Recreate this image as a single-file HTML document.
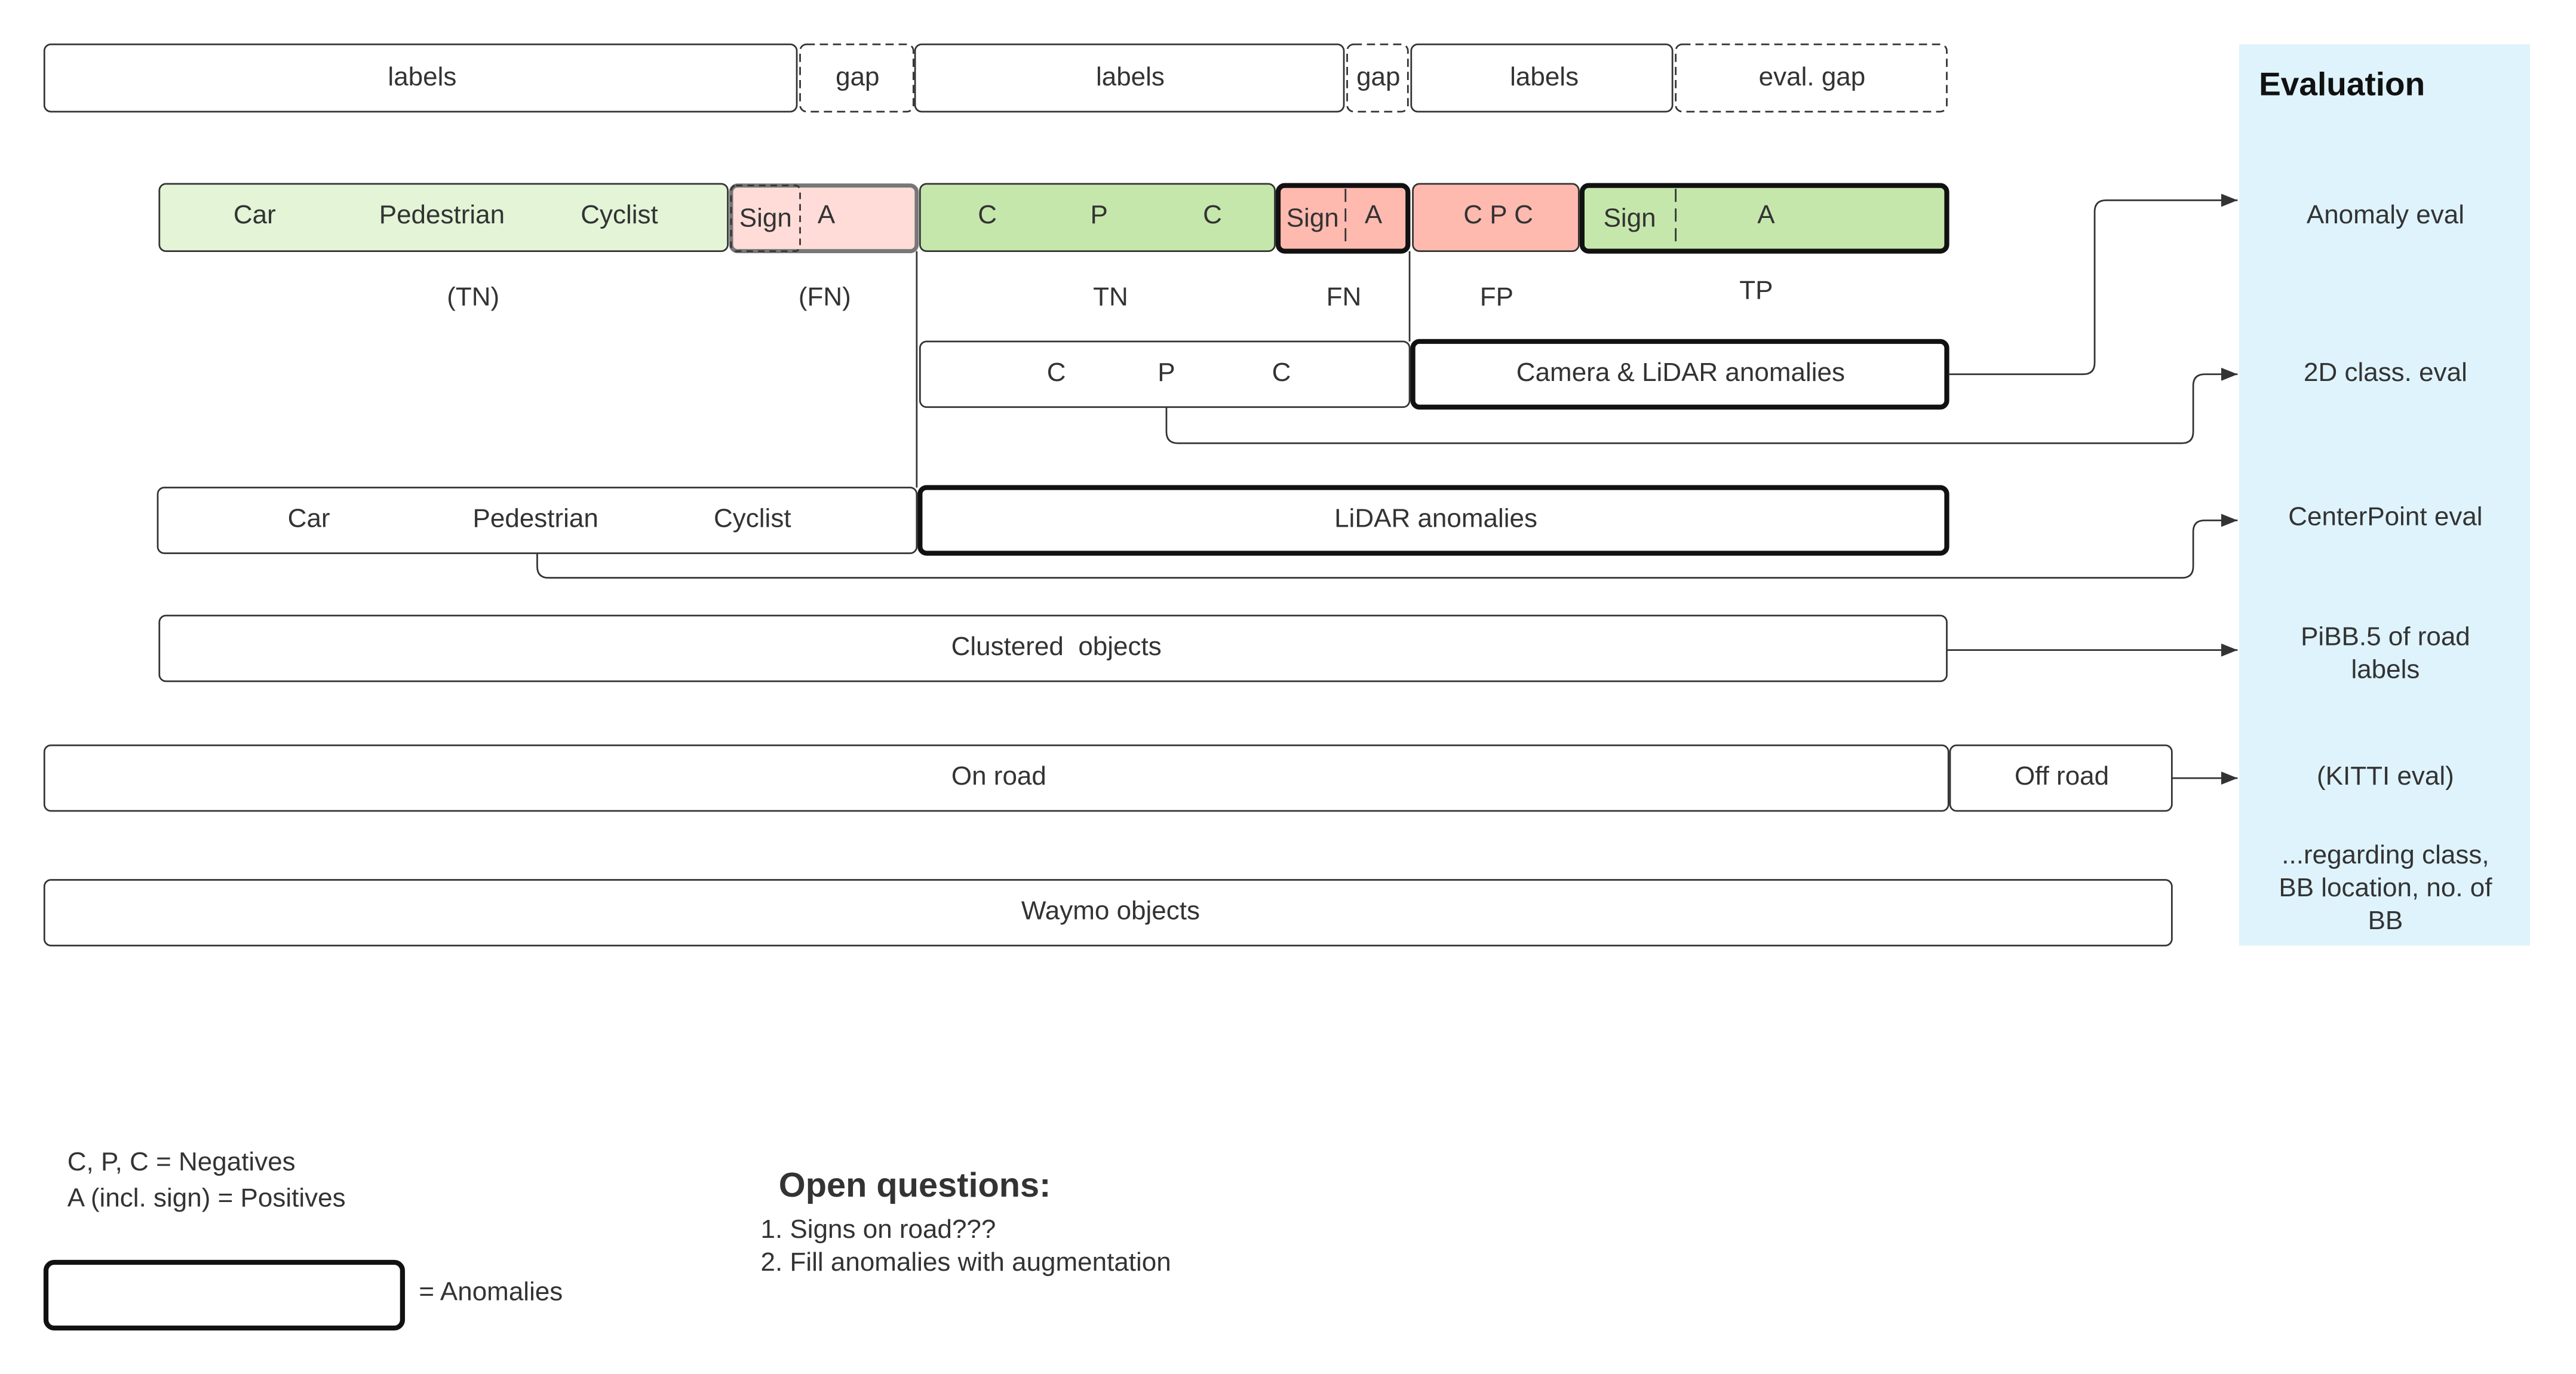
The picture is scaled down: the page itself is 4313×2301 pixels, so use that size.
<!DOCTYPE html>
<html><head><meta charset="utf-8"><style>
html,body{margin:0;padding:0;background:#fff;}
svg{display:block;}
text{font-family:"Liberation Sans",sans-serif;fill:#333;font-size:16px;}
</style></head><body>
<svg width="4313" height="2301" viewBox="0 0 1568 837" preserveAspectRatio="none" xmlns="http://www.w3.org/2000/svg">
<defs><marker id="ah" markerWidth="10" markerHeight="8" refX="10" refY="4" orient="auto" markerUnits="userSpaceOnUse"><path d="M0,0 L10,4 L0,8 Z" fill="#333"/></marker></defs>
<rect x="0" y="0" width="1568" height="837" fill="#fff"/>
<rect x="1363" y="27" width="177" height="549" fill="#dff3fc"/>
<text x="1375" y="58" style="font-weight:bold;font-size:20px;fill:#111">Evaluation</text>
<g text-anchor="middle">
<text x="1452" y="136">Anomaly eval</text>
<text x="1452" y="232">2D class. eval</text>
<text x="1452" y="320">CenterPoint eval</text>
<text x="1452" y="393">PiBB.5 of road</text>
<text x="1452" y="413">labels</text>
<text x="1452" y="478">(KITTI eval)</text>
<text x="1452" y="526">...regarding class,</text>
<text x="1452" y="546">BB location, no. of</text>
<text x="1452" y="566">BB</text>
</g>
<g fill="none" stroke="#333" stroke-width="1">
<rect x="27" y="27" width="458" height="41" rx="4"/>
<rect x="487" y="27" width="69" height="41" rx="4" stroke-dasharray="5,3"/>
<rect x="557" y="27" width="261" height="41" rx="4"/>
<rect x="820" y="27" width="37" height="41" rx="4" stroke-dasharray="5,3"/>
<rect x="859" y="27" width="159" height="41" rx="4"/>
<rect x="1020" y="27" width="165" height="41" rx="4" stroke-dasharray="5,3"/>
</g>
<rect x="97" y="112" width="346" height="41" rx="4" fill="#e3f4d7" stroke="#333"/>
<rect x="445" y="113" width="113" height="40" rx="4" fill="#ffdcd8" stroke="#777" stroke-width="2.5"/>
<rect x="445" y="113" width="42" height="40" rx="3" fill="none" stroke="#333" stroke-dasharray="4,3"/>
<rect x="560" y="112" width="216" height="41" rx="4" fill="#c6e7ac" stroke="#333"/>
<rect x="778" y="113" width="79" height="40" rx="4" fill="#ffbab0" stroke="#111" stroke-width="3"/>
<line x1="819" y1="115" x2="819" y2="151" stroke="#333" stroke-dasharray="8,4"/>
<rect x="860" y="112" width="101" height="41" rx="4" fill="#ffbab0" stroke="#333"/>
<rect x="963" y="113" width="222" height="40" rx="4" fill="#c6e7ac" stroke="#111" stroke-width="3"/>
<line x1="1020" y1="115" x2="1020" y2="151" stroke="#333" stroke-dasharray="8,4"/>
<g text-anchor="middle">
<text x="155" y="136">Car</text><text x="269" y="136">Pedestrian</text><text x="377" y="136">Cyclist</text>
<text x="466" y="138">Sign</text><text x="503" y="136">A</text>
<text x="601" y="136">C</text><text x="669" y="136">P</text><text x="738" y="136">C</text>
<text x="799" y="138">Sign</text><text x="836" y="136">A</text>
<text x="912" y="136">C P C</text>
<text x="992" y="138">Sign</text><text x="1075" y="136">A</text>
<text x="288" y="186">(TN)</text><text x="502" y="186">(FN)</text><text x="676" y="186">TN</text>
<text x="818" y="186">FN</text><text x="911" y="186">FP</text><text x="1069" y="182">TP</text>
</g>
<g fill="none" stroke="#333" stroke-width="1">
<line x1="558" y1="153" x2="558" y2="297"/>
<line x1="858" y1="153" x2="858" y2="208"/>
<rect x="560" y="208" width="298" height="40" rx="4"/>
<rect x="860" y="208" width="325" height="40" rx="4" stroke="#111" stroke-width="3"/>
<rect x="96" y="297" width="462" height="40" rx="4"/>
<rect x="560" y="297" width="625" height="40" rx="4" stroke="#111" stroke-width="3"/>
<rect x="97" y="375" width="1088" height="40" rx="4"/>
<rect x="27" y="454" width="1159" height="40" rx="4"/>
<rect x="1187" y="454" width="135" height="40" rx="4"/>
<rect x="27" y="536" width="1295" height="40" rx="4"/>
<rect x="28" y="769" width="217" height="40" rx="5" stroke="#111" stroke-width="3"/>
<path d="M1186,228 H1268 Q1275,228 1275,221 V129 Q1275,122 1282,122 H1362" marker-end="url(#ah)"/>
<path d="M710,248 V263 Q710,270 717,270 H1328 Q1335,270 1335,263 V235 Q1335,228 1342,228 H1362" marker-end="url(#ah)"/>
<path d="M327,337 V345 Q327,352 334,352 H1328 Q1335,352 1335,345 V324 Q1335,317 1342,317 H1362" marker-end="url(#ah)"/>
<path d="M1185,396 H1362" marker-end="url(#ah)"/>
<path d="M1322,474 H1362" marker-end="url(#ah)"/>
</g>
<g text-anchor="middle">
<text x="643" y="232">C</text><text x="710" y="232">P</text><text x="780" y="232">C</text>
<text x="1023" y="232">Camera &amp; LiDAR anomalies</text>
<text x="188" y="321">Car</text><text x="326" y="321">Pedestrian</text><text x="458" y="321">Cyclist</text>
<text x="874" y="321">LiDAR anomalies</text>
<text x="643" y="399" xml:space="preserve">Clustered  objects</text>
<text x="608" y="478">On road</text>
<text x="1255" y="478">Off road</text>
<text x="676" y="560">Waymo objects</text>
<text x="257" y="52">labels</text><text x="522" y="52">gap</text><text x="688" y="52">labels</text>
<text x="839" y="52">gap</text><text x="940" y="52">labels</text><text x="1103" y="52">eval. gap</text>
</g>
<text x="41" y="713">C, P, C = Negatives</text>
<text x="41" y="735">A (incl. sign) = Positives</text>
<text x="255" y="792">= Anomalies</text>
<text x="474" y="729" style="font-weight:bold;font-size:21px">Open questions:</text>
<text x="463" y="754">1. Signs on road???</text>
<text x="463" y="774">2. Fill anomalies with augmentation</text>
</svg>
</body></html>
